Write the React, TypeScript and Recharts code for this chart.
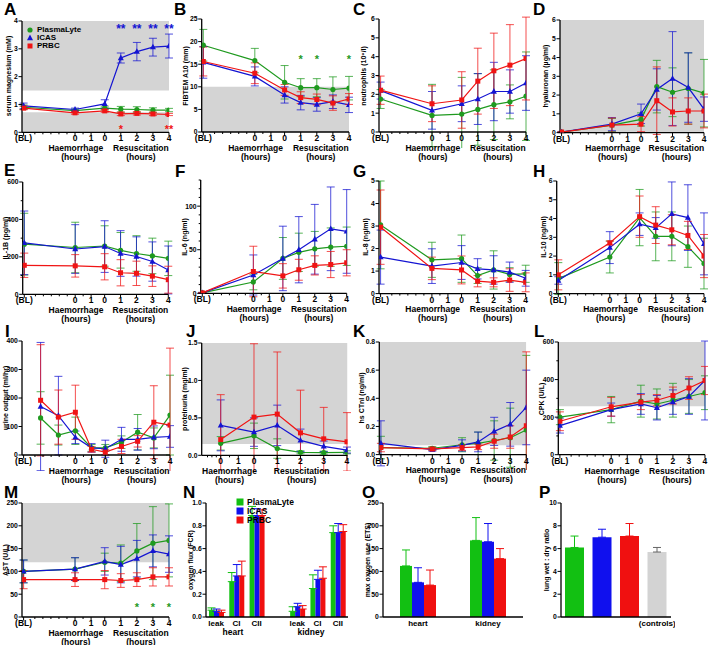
import React from 'react';
import { LineChart, Line, XAxis, YAxis, ErrorBar, ReferenceArea, ReferenceDot, BarChart, Bar } from 'recharts';

const FONT = '"Liberation Sans", Arial, Helvetica, sans-serif';
const GREEN = '#1f9a1f';
const BLUE = '#1414d2';
const RED = '#f01414';
const BGREEN = '#12c012';
const BBLUE = '#1010ee';
const BRED = '#f01010';
const BGRAY = '#d3d3d3';
const GRAYAREA = '#d4d4d4';

const seriesNames = ['PlasmaLyte', 'ICAS', 'PRBC'];
const stdTimes = ['BL', 'H0', 'R0', 'R1', 'R2', 'R3', 'R4'];
const urineTimes = ['Bm2', 'Bm1', 'H0', 'H1', 'R0', 'R1', 'R2', 'R3', 'R4'];
const protTimes = ['H0', 'R0', 'R1', 'R2', 'R3', 'R4'];

// A serum magnesium
const magPL = [0.9, 0.78, 0.87, 0.83, 0.82, 0.8, 0.8];
const magPLsd = [0.08, 0.05, 0.07, 0.1, 0.1, 0.08, 0.06];
const magIC = [0.95, 0.82, 1.02, 2.67, 2.9, 3.06, 3.1];
const magICsd = [0.1, 0.05, 0.15, 0.18, 0.33, 0.32, 0.43];
const magPR = [0.87, 0.7, 0.77, 0.66, 0.68, 0.66, 0.64];
const magPRsd = [0.06, 0.05, 0.05, 0.06, 0.06, 0.06, 0.04];
// B FIBTEM
const fibPL = [19.2, 15.8, 11.0, 9.8, 9.8, 9.4, 9.7];
const fibPLsd = [3.5, 2.7, 3.7, 2.0, 2.0, 2.8, 2.6];
const fibIC = [15.4, 12.3, 8.2, 6.5, 6.1, 6.7, 6.0];
const fibICsd = [3.5, 2.1, 1.8, 1.6, 1.5, 1.5, 1.7];
const fibPR = [15.6, 13.0, 9.3, 7.6, 7.2, 6.4, 7.3];
const fibPRsd = [3.2, 2.3, 1.2, 1.3, 1.2, 1.6, 1.2];
// C neutrophils
const neuPL = [1.75, 0.88, 0.95, 1.2, 1.45, 1.6, 1.9];
const neuPLsd = [0.5, 1.65, 1.95, 1.9, 1.85, 0.9, 2.35];
const neuIC = [2.2, 1.15, 1.5, 1.75, 2.15, 2.15, 2.6];
const neuICsd = [0.45, 1.0, 0.95, 1.35, 1.55, 1.15, 1.45];
const neuPR = [2.22, 1.5, 1.7, 2.7, 3.25, 3.55, 3.9];
const neuPRsd = [0.75, 0.95, 1.5, 1.75, 2.0, 2.15, 2.2];
// D hyaluronan
const hyaPL = [0.03, 0.4, 0.7, 2.45, 2.15, 2.35, 2.1];
const hyaPLsd = [0.03, 0.35, 0.35, 1.4, 1.3, 1.9, 1.8];
const hyaIC = [0.03, 0.45, 1.0, 2.3, 2.88, 2.4, 1.25];
const hyaICsd = [0.03, 0.35, 0.52, 1.1, 2.5, 1.85, 0.65];
const hyaPR = [0.03, 0.4, 0.45, 1.7, 1.1, 1.15, 1.15];
const hyaPRsd = [0.03, 0.38, 0.4, 1.8, 0.75, 0.7, 0.9];
// E IL-1B
const il1PL = [268, 250, 258, 235, 218, 205, 192];
const il1PLsd = [165, 135, 108, 95, 95, 95, 92];
const il1IC = [275, 242, 255, 218, 202, 175, 130];
const il1ICsd = [170, 130, 138, 122, 105, 105, 128];
const il1PR = [155, 152, 147, 115, 112, 97, 78];
const il1PRsd = [65, 60, 70, 70, 65, 55, 72];
// F IL-6
const il6PL = [0.5, 13, 40, 47, 51, 53, 54];
const il6PLsd = [0.5, 9, 24, 22, 20, 22, 22];
const il6IC = [0.5, 21, 40, 50, 62, 74, 71];
const il6ICsd = [0.5, 23, 37, 38, 40, 48, 48];
const il6PR = [0.5, 25, 20, 27, 32, 33, 35];
const il6PRsd = [0.5, 29, 14, 12, 11, 15, 15];
// G IL-8
const il8PL = [3.05, 1.5, 1.55, 0.8, 1.05, 0.85, 0.88];
const il8PLsd = [1.95, 0.78, 1.05, 0.35, 0.85, 0.3, 0.38];
const il8IC = [1.62, 1.22, 1.38, 1.1, 1.05, 0.95, 0.68];
const il8ICsd = [1.2, 0.77, 0.75, 0.45, 0.63, 0.45, 0.35];
const il8PR = [2.95, 1.12, 1.05, 0.55, 0.5, 0.6, 0.5];
const il8PRsd = [1.65, 0.5, 0.62, 0.25, 0.2, 0.5, 0.42];
// H IL-10
const il10PL = [0.8, 1.95, 4.05, 3.05, 3.05, 2.5, 1.6];
const il10PLsd = [0.85, 0.85, 1.5, 1.3, 1.3, 1.1, 1.35];
const il10IC = [0.7, 2.45, 3.7, 3.5, 4.25, 4.05, 2.65];
const il10ICsd = [0.2, 0.85, 0.6, 0.55, 1.7, 1.75, 1.65];
const il10PR = [1.0, 2.7, 4.1, 3.65, 3.4, 3.1, 2.0];
const il10PRsd = [0.8, 0.1, 1.1, 0.98, 0.8, 0.75, 1.15];
// I urine output
const uriPL = [130, 70, 85, 25, 25, 45, 80, 60, 140];
const uriPLsd = [92, 35, 48, 12, 12, 22, 62, 35, 140];
const uriIC = [170, 138, 62, 25, 22, 55, 55, 62, 65];
const uriICsd = [225, 138, 22, 15, 30, 42, 38, 40, 38];
const uriPR = [192, 133, 150, 20, 10, 30, 48, 115, 105];
const uriPRsd = [195, 95, 95, 10, 10, 25, 20, 128, 270];
// J proteinuria
const proPL = [0.16, 0.26, 0.09, 0.04, 0.035, 0.04];
const proPLsd = [0.09, 0.17, 0.13, 0.02, 0.02, 0.02];
const proIC = [0.4, 0.31, 0.4, 0.2, 0.12, 0.07];
const proICsd = [0.34, 0.19, 0.27, 0.15, 0.07, 0.04];
const proPR = [0.21, 0.51, 0.55, 0.3, 0.22, 0.18];
const proPRsd = [0.6, 0.98, 0.83, 0.57, 0.42, 0.39];
// K hs CTnI
const ctnPL = [0.05, 0.045, 0.07, 0.08, 0.1, 0.12, 0.175];
const ctnPLsd = [0.08, 0.012, 0.05, 0.08, 0.14, 0.21, 0.53];
const ctnIC = [0.08, 0.035, 0.065, 0.09, 0.165, 0.215, 0.335];
const ctnICsd = [0.16, 0.01, 0.04, 0.07, 0.1, 0.155, 0.265];
const ctnPR = [0.05, 0.04, 0.05, 0.055, 0.095, 0.125, 0.205];
const ctnPRsd = [0.03, 0.01, 0.02, 0.02, 0.05, 0.08, 0.525];
// L CPK
const cpkPL = [200, 240, 285, 270, 290, 310, 330];
const cpkPLsd = [40, 70, 85, 80, 90, 90, 90];
const cpkIC = [155, 240, 270, 250, 280, 310, 395];
const cpkICsd = [40, 35, 55, 65, 65, 95, 210];
const cpkPR = [178, 255, 280, 290, 315, 355, 395];
const cpkPRsd = [50, 50, 40, 30, 45, 60, 75];
// M AST
const astPL = [100, 105, 120, 118, 145, 162, 168];
const astPLsd = [25, 25, 20, 40, 60, 80, 80];
const astIC = [100, 105, 122, 115, 128, 145, 138];
const astICsd = [25, 25, 30, 40, 40, 35, 40];
const astPR = [82, 82, 82, 80, 82, 88, 88];
const astPRsd = [20, 15, 20, 15, 15, 20, 20];
// N oxygen flux
const flxCats = ['leak', 'CI', 'CII', '', 'leak', 'CI', 'CII'];
const flxPL = [0.06, 0.31, 0.89, null, 0.05, 0.25, 0.74];
const flxPLsd = [0.02, 0.08, 0.08, 0, 0.04, 0.12, 0.06];
const flxIC = [0.05, 0.36, 0.89, null, 0.09, 0.33, 0.74];
const flxICsd = [0.02, 0.1, 0.06, 0, 0.03, 0.08, 0.08];
const flxPR = [0.04, 0.36, 0.89, null, 0.07, 0.34, 0.75];
const flxPRsd = [0.02, 0.13, 0.05, 0, 0.03, 0.1, 0.06];
// O max oxygen use
const oxyCats = ['heart', 'kidney'];
const oxyPL = [112, 168];
const oxyPLsd = [35, 50];
const oxyIC = [76, 165];
const oxyICsd = [32, 40];
const oxyPR = [70, 128];
const oxyPRsd = [33, 22];
// P lung wet:dry
const lungCats = ['PlasmaLyte', 'ICAS', 'PRBC', '(controls)'];
const lungPL = [6.1, null, null, null];
const lungIC = [null, 7.0, null, null];
const lungPR = [null, null, 7.1, null];
const lungCT = [null, null, null, 5.7];
const lungSd = [1.0, 0.7, 1.1, 0.4];

const AXES: any = {
  std: {
    domain: [-3.3, 5.85],
    pos: { BL: -3.2, Bm2: -2.15, Bm1: -1.05, H0: 0, H1: 1, R0: 1.85, R1: 2.85, R2: 3.85, R3: 4.85, R4: 5.85 },
    major: [
      { v: -3.2, l: '(BL)' }, { v: 0, l: '0' }, { v: 1, l: '1' }, { v: 1.85, l: '0' },
      { v: 2.85, l: '1' }, { v: 3.85, l: '2' }, { v: 4.85, l: '3' }, { v: 5.85, l: '4' },
    ],
    minor: [-2.5, -2, -1.5, -1, -0.5, 0.5],
    haem: 0.05, res: 4.1,
  },
  prot: {
    domain: [-1.08, 7.2],
    pos: { H0: 0, H1: 1, R0: 1.89, R1: 3.21, R2: 4.53, R3: 5.85, R4: 7.17 },
    major: [
      { v: 0, l: '0' }, { v: 1, l: '1' }, { v: 1.89, l: '0' },
      { v: 3.21, l: '1' }, { v: 4.53, l: '2' }, { v: 5.85, l: '3' }, { v: 7.17, l: '4' },
    ],
    minor: [-0.75, -0.5, -0.25, 0.5],
    haem: 0.5, res: 4.6,
  },
};

const XTick = (p: any) => {
  const { x, y, payload, major } = p;
  const m = major.find((mm: any) => Math.abs(mm.v - payload.value) < 1e-6);
  return (
    <g>
      <line x1={x} x2={x} y1={y} y2={y + (m ? 3.5 : 2)} stroke="#000" strokeWidth={1} />
      {m && (
        <text x={x} y={y + 9} textAnchor="middle" fontSize={8.5} fontWeight="bold" fontFamily={FONT} fill="#000">
          {m.l}
        </text>
      )}
    </g>
  );
};

const YTick = (p: any) => {
  const { x, y, payload, majors, fmt } = p;
  const isMajor = majors.some((v: number) => Math.abs(v - payload.value) < 1e-9);
  return (
    <g>
      <line x1={x} x2={x - (isMajor ? 3.5 : 2)} y1={y} y2={y} stroke="#000" strokeWidth={1} />
      {isMajor && (
        <text x={x - 4.2} y={y} dy="0.35em" textAnchor="end" fontSize={6.8} fontWeight="bold" fontFamily={FONT} fill="#000">
          {fmt(payload.value)}
        </text>
      )}
    </g>
  );
};

const makeDot = (shape: string, color: string) => (p: any) => {
  const { cx, cy, index } = p;
  if (cx == null || cy == null) return <g key={index} />;
  if (shape === 'circle') return <circle key={index} cx={cx} cy={cy} r={2.6} fill={color} />;
  if (shape === 'square') return <rect key={index} x={cx - 2.5} y={cy - 2.5} width={5} height={5} fill={color} />;
  return <polygon key={index} points={`${cx},${cy - 3.4} ${cx + 3},${cy + 2.2} ${cx - 3},${cy + 2.2}`} fill={color} />;
};

const Txt = ({ x, y, children, size = 8.5, color = '#000', anchor = 'middle', rotate = false, weight = 'bold' }: any) => {
  const tx = anchor === 'middle' ? '-50%' : anchor === 'start' ? '0' : '-100%';
  return (
    <div
      style={{
        position: 'absolute', left: x, top: y, transform: `translate(${tx},-50%)${rotate ? ' rotate(-90deg)' : ''}`,
        fontFamily: FONT, fontSize: size, fontWeight: weight as any, color, whiteSpace: 'nowrap', lineHeight: 1,
      }}
    >
      {children}
    </div>
  );
};

const Letter = ({ x, y, l }: any) => (
  <div style={{ position: 'absolute', left: x, top: y + 0.9, fontFamily: FONT, fontSize: 17, fontWeight: 'bold', lineHeight: 0.8 }}>{l}</div>
);

const fmtI = (v: number) => String(v);
const fmt1 = (v: number) => v.toFixed(1);

const COLORS = [GREEN, BLUE, RED];
const SHAPES = ['circle', 'triangle', 'square'];

function LinePanel({ c }: any) {
  const ax = AXES[c.axis];
  const yW = c.px - c.colStart;
  const mt = 8, mr = 6, xh = 16;
  const width = c.px + c.pw + mr - c.colStart;
  const height = c.ph + mt + xh;
  const seriesData = c.series.map((s: any) =>
    s.vals.map((v: number, i: number) => ({ x: ax.pos[c.times[i]], y: v, e: s.sd[i] }))
  );
  const xTicks = [...ax.major.map((m: any) => m.v), ...ax.minor].sort((a, b) => a - b);
  const yTicks = [...c.yMajor, ...(c.yMinor || [])].sort((a: number, b: number) => a - b);
  const toPx = (v: number) => c.px + ((v - ax.domain[0]) / (ax.domain[1] - ax.domain[0])) * c.pw;
  const gy = c.py + c.ph;
  return (
    <>
      <div style={{ position: 'absolute', left: c.colStart, top: c.py - mt }}>
        <LineChart width={width} height={height} margin={{ top: mt, right: mr, left: 0, bottom: 0 }}>
          {(c.areas || []).map((a: number[], i: number) => (
            <ReferenceArea key={'a' + i} x1={ax.domain[0]} x2={ax.domain[1]} y1={a[0]} y2={a[1]} fill={GRAYAREA} fillOpacity={1} stroke="none" ifOverflow="hidden" />
          ))}
          <XAxis
            type="number" dataKey="x" domain={ax.domain} allowDataOverflow ticks={xTicks} interval={0}
            tickSize={0} tickMargin={0} height={xh} tickLine={false}
            axisLine={{ stroke: '#000', strokeWidth: 1.3 }}
            tick={<XTick major={ax.major} />}
          />
          <YAxis
            type="number" domain={c.yDomain} allowDataOverflow ticks={yTicks} interval={0} width={yW}
            tickSize={0} tickMargin={0} tickLine={false}
            axisLine={{ stroke: '#000', strokeWidth: 1.3 }}
            tick={<YTick majors={c.yMajor} fmt={c.yFmt || fmtI} />}
          />
          {seriesData.map((d: any, k: number) => (
            <Line
              key={seriesNames[k]} name={seriesNames[k]} data={d} dataKey="y" stroke={COLORS[k]} strokeWidth={1.2}
              isAnimationActive={false} dot={makeDot(SHAPES[k], COLORS[k])} activeDot={false}
            >
              <ErrorBar dataKey="e" width={4} stroke={COLORS[k]} strokeWidth={1} strokeOpacity={0.75} direction="y" />
            </Line>
          ))}
          {(c.notes || []).map((n: any, i: number) => (
            <ReferenceDot
              key={'n' + i} x={ax.pos[n.t]} y={n.y} r={1} fill="none" stroke="none" ifOverflow="visible"
              label={{ value: n.text, position: 'center', fill: n.color, fontSize: n.size || 11, fontWeight: 'bold', fontFamily: FONT }}
            />
          ))}
        </LineChart>
      </div>
      <Txt x={c.ylx} y={c.py + c.ph / 2} rotate size={7}>{c.ylabel}</Txt>
      <Txt x={toPx(ax.haem)} y={gy + 16}>Haemorrhage</Txt>
      <Txt x={toPx(ax.res)} y={gy + 16}>Resuscitation</Txt>
      <Txt x={toPx(ax.haem)} y={gy + 25}>(hours)</Txt>
      <Txt x={toPx(ax.res)} y={gy + 25}>(hours)</Txt>
      <Letter x={c.lx} y={c.ly} l={c.letter} />
    </>
  );
}

const S = (vals: number[], sd: number[]) => ({ vals, sd });

const linePanels = [
  { letter: 'A', lx: 4, ly: 2, colStart: 0, px: 22, py: 20.7, pw: 147, ph: 111.3, axis: 'std', times: stdTimes, yDomain: [0, 4], yMajor: [0, 1, 2, 3, 4], ylabel: 'serum magnesium (mM)', ylx: 8,
    series: [S(magPL, magPLsd), S(magIC, magICsd), S(magPR, magPRsd)], areas: [[1.5, 4], [0, 0.72]],
    notes: [
      { t: 'R1', y: 3.72, text: '**', color: BLUE, size: 12 }, { t: 'R2', y: 3.72, text: '**', color: BLUE, size: 12 },
      { t: 'R3', y: 3.72, text: '**', color: BLUE, size: 12 }, { t: 'R4', y: 3.72, text: '**', color: BLUE, size: 12 },
      { t: 'R1', y: 0.12, text: '*', color: RED }, { t: 'R4', y: 0.12, text: '**', color: RED },
    ] },
  { letter: 'B', lx: 174, ly: 2, colStart: 172, px: 201.7, py: 19.3, pw: 147.3, ph: 113, axis: 'std', times: stdTimes, yDomain: [0, 25], yMajor: [0, 5, 10, 15, 20, 25], ylabel: 'FIBTEM A10 (mm)', ylx: 185,
    series: [S(fibPL, fibPLsd), S(fibIC, fibICsd), S(fibPR, fibPRsd)], areas: [[0, 10]],
    notes: [
      { t: 'R1', y: 16.2, text: '*', color: GREEN }, { t: 'R2', y: 16.2, text: '*', color: GREEN }, { t: 'R4', y: 16.2, text: '*', color: GREEN },
    ] },
  { letter: 'C', lx: 353, ly: 2, colStart: 352, px: 379, py: 19.3, pw: 147, ph: 113, axis: 'std', times: stdTimes, yDomain: [0, 6], yMajor: [0, 1, 2, 3, 4, 5, 6], ylabel: 'neutrophils (10\u2079/l)', ylx: 363,
    series: [S(neuPL, neuPLsd), S(neuIC, neuICsd), S(neuPR, neuPRsd)] },
  { letter: 'D', lx: 533, ly: 2, colStart: 532, px: 560, py: 19.7, pw: 144, ph: 112.6, axis: 'std', times: stdTimes, yDomain: [0, 6], yMajor: [0, 1, 2, 3, 4, 5, 6], ylabel: 'hyaluronan (\u00b5g/ml)', ylx: 545,
    series: [S(hyaPL, hyaPLsd), S(hyaIC, hyaICsd), S(hyaPR, hyaPRsd)], areas: [[0, 6]] },
  { letter: 'E', lx: 4, ly: 163, colStart: 0, px: 22.7, py: 181.7, pw: 145.6, ph: 112.3, axis: 'std', times: stdTimes, yDomain: [0, 600], yMajor: [0, 200, 400, 600], yMinor: [100, 300, 500], ylabel: 'IL-1B (pg/ml)', ylx: 5,
    series: [S(il1PL, il1PLsd), S(il1IC, il1ICsd), S(il1PR, il1PRsd)] },
  { letter: 'F', lx: 175, ly: 164, colStart: 172, px: 200.7, py: 180, pw: 146, ph: 113.3, axis: 'std', times: stdTimes, yDomain: [0, 130], yMajor: [0, 50, 100], yMinor: [10, 20, 30, 40, 60, 70, 80, 90, 110, 120, 130], ylabel: 'IL-6 (ng/ml)', ylx: 184,
    series: [S(il6PL, il6PLsd), S(il6IC, il6ICsd), S(il6PR, il6PRsd)] },
  { letter: 'G', lx: 353, ly: 164, colStart: 352, px: 379, py: 180.7, pw: 146.7, ph: 112.6, axis: 'std', times: stdTimes, yDomain: [0, 5], yMajor: [0, 1, 2, 3, 4, 5], ylabel: 'IL-8 (ng/ml)', ylx: 365,
    series: [S(il8PL, il8PLsd), S(il8IC, il8ICsd), S(il8PR, il8PRsd)] },
  { letter: 'H', lx: 533, ly: 164, colStart: 532, px: 556.7, py: 180.7, pw: 147.3, ph: 112.6, axis: 'std', times: stdTimes, yDomain: [0, 6], yMajor: [0, 1, 2, 3, 4, 5, 6], ylabel: 'IL-10 (ng/ml)', ylx: 543,
    series: [S(il10PL, il10PLsd), S(il10IC, il10ICsd), S(il10PR, il10PRsd)] },
  { letter: 'I', lx: 5, ly: 324, colStart: 0, px: 22, py: 341, pw: 148, ph: 114, axis: 'std', times: urineTimes, yDomain: [0, 400], yMajor: [0, 100, 200, 300, 400], ylabel: 'urine output (ml/hr)', ylx: 5,
    series: [S(uriPL, uriPLsd), S(uriIC, uriICsd), S(uriPR, uriPRsd)] },
  { letter: 'J', lx: 186, ly: 324, colStart: 172, px: 201.7, py: 342.7, pw: 145.8, ph: 112.3, axis: 'prot', times: protTimes, yDomain: [0, 1.5], yMajor: [0, 0.5, 1, 1.5], yFmt: fmt1, ylabel: 'proteinuria (mg/ml)', ylx: 184,
    series: [S(proPL, proPLsd), S(proIC, proICsd), S(proPR, proPRsd)], areas: [[0.15, 1.5]] },
  { letter: 'K', lx: 353, ly: 324, colStart: 352, px: 379.3, py: 341.7, pw: 147, ph: 112.6, axis: 'std', times: stdTimes, yDomain: [0, 0.8], yMajor: [0, 0.2, 0.4, 0.6, 0.8], yFmt: fmt1, ylabel: 'hs CTnI (ng/ml)', ylx: 361,
    series: [S(ctnPL, ctnPLsd), S(ctnIC, ctnICsd), S(ctnPR, ctnPRsd)], areas: [[0.066, 0.8]] },
  { letter: 'L', lx: 534, ly: 324, colStart: 532, px: 558.3, py: 342.3, pw: 146.7, ph: 112.7, axis: 'std', times: stdTimes, yDomain: [0, 600], yMajor: [0, 200, 400, 600], yMinor: [100, 300, 500], ylabel: 'CPK (U/L)', ylx: 541,
    series: [S(cpkPL, cpkPLsd), S(cpkIC, cpkICsd), S(cpkPR, cpkPRsd)], areas: [[258, 600]] },
  { letter: 'M', lx: 4, ly: 485, colStart: 0, px: 22, py: 503, pw: 147, ph: 114, axis: 'std', times: stdTimes, yDomain: [0, 250], yMajor: [0, 50, 100, 150, 200, 250], ylabel: 'AST (U/L)', ylx: 4.5,
    series: [S(astPL, astPLsd), S(astIC, astICsd), S(astPR, astPRsd)], areas: [[120, 250]],
    notes: [
      { t: 'R2', y: 22, text: '*', color: GREEN }, { t: 'R3', y: 22, text: '*', color: GREEN }, { t: 'R4', y: 22, text: '*', color: GREEN },
    ] },
];

const CatTick = (p: any) => {
  const { x, y, payload, labels } = p;
  return (
    <text x={x} y={y + 9} textAnchor="middle" fontSize={8} fontWeight="bold" fontFamily={FONT} fill="#000">
      {labels[payload.value]}
    </text>
  );
};

function BarPanel({ c }: any) {
  const yW = c.px - c.colStart;
  const mt = 8, mr = 4, xh = 14;
  const width = c.px + c.pw + mr - c.colStart;
  const height = c.ph + mt + xh;
  const data = c.cats.map((_: string, i: number) => {
    const row: any = { i };
    c.series.forEach((s: any, k: number) => {
      row['v' + k] = s.vals[i];
      row['e' + k] = s.vals[i] == null ? null : [0, s.sd[i]];
    });
    return row;
  });
  return (
    <>
      <div style={{ position: 'absolute', left: c.colStart, top: c.py - mt }}>
        <BarChart width={width} height={height} data={data} margin={{ top: mt, right: mr, left: 0, bottom: 0 }} barGap={0} barCategoryGap={c.catGap}>
          <XAxis dataKey="i" type="category" tickSize={0} tickMargin={0} height={xh} tickLine={false} interval={0}
            axisLine={{ stroke: '#000', strokeWidth: 1.3 }} tick={<CatTick labels={c.tickLabels} />} />
          <YAxis type="number" domain={c.yDomain} allowDataOverflow ticks={c.yMajor} interval={0} width={yW}
            tickSize={0} tickMargin={0} tickLine={false} axisLine={{ stroke: '#000', strokeWidth: 1.3 }}
            tick={<YTick majors={c.yMajor} fmt={c.yFmt || fmtI} />} />
          {c.series.map((s: any, k: number) => (
            <Bar key={'b' + k} name={s.name} dataKey={'v' + k} fill={s.color} barSize={c.barSize} stackId={c.stacked ? 'st' : undefined} isAnimationActive={false}>
              <ErrorBar dataKey={'e' + k} width={c.capW || 4} stroke={s.errColor || s.color} strokeWidth={1} direction="y" />
            </Bar>
          ))}
        </BarChart>
      </div>
      <Txt x={c.ylx} y={c.py + c.ph / 2} rotate size={7}>{c.ylabel}</Txt>
      <Letter x={c.lx} y={c.ly} l={c.letter} />
    </>
  );
}

const barPanels = [
  { letter: 'N', lx: 183, ly: 485, colStart: 172, px: 206, py: 503, pw: 142, ph: 114, yDomain: [0, 1], yMajor: [0, 0.2, 0.4, 0.6, 0.8, 1.0], yFmt: fmt1,
    ylabel: 'oxygen flux (FCR)', ylx: 190, cats: flxCats, tickLabels: flxCats, barSize: 5, catGap: '10%',
    series: [
      { name: seriesNames[0], vals: flxPL, sd: flxPLsd, color: BGREEN },
      { name: seriesNames[1], vals: flxIC, sd: flxICsd, color: BBLUE },
      { name: seriesNames[2], vals: flxPR, sd: flxPRsd, color: BRED },
    ] },
  { letter: 'O', lx: 362, ly: 485, colStart: 352, px: 383, py: 503, pw: 140, ph: 114, yDomain: [0, 250], yMajor: [0, 50, 100, 150, 200, 250],
    ylabel: 'max oxygen use (ETS)', ylx: 367, cats: oxyCats, tickLabels: oxyCats, barSize: 12, catGap: '20%',
    series: [
      { name: seriesNames[0], vals: oxyPL, sd: oxyPLsd, color: BGREEN },
      { name: seriesNames[1], vals: oxyIC, sd: oxyICsd, color: BBLUE },
      { name: seriesNames[2], vals: oxyPR, sd: oxyPRsd, color: BRED },
    ] },
  { letter: 'P', lx: 539, ly: 485, colStart: 532, px: 561, py: 503, pw: 110, ph: 114, yDomain: [0, 10], yMajor: [0, 2, 4, 6, 8, 10],
    ylabel: 'lung wet : dry ratio', ylx: 546, cats: lungCats, tickLabels: ['', '', '', '(controls)'], barSize: 19, catGap: '12%', stacked: true,
    series: [
      { name: seriesNames[0], vals: lungPL, sd: lungSd, color: BGREEN },
      { name: seriesNames[1], vals: lungIC, sd: lungSd, color: BBLUE },
      { name: seriesNames[2], vals: lungPR, sd: lungSd, color: BRED },
      { name: 'controls', vals: lungCT, sd: lungSd, color: BGRAY, errColor: '#666' },
    ] },
];

const LegendRow = ({ x, y, color, shape, label, size = 8 }: any) => (
  <div style={{ position: 'absolute', left: x, top: y - 5, height: 10, display: 'flex', alignItems: 'center', fontFamily: FONT, fontSize: size, fontWeight: 'bold', lineHeight: 1, whiteSpace: 'nowrap' }}>
    <svg width={8} height={8} style={{ marginRight: 3 }}>
      {shape === 'circle' && <circle cx={4} cy={4} r={2.6} fill={color} />}
      {shape === 'triangle' && <polygon points="4,0.6 7,6.2 1,6.2" fill={color} />}
      {shape === 'square' && <rect x={1.5} y={1.5} width={5} height={5} fill={color} />}
      {shape === 'box' && <rect x={0.5} y={0.5} width={7} height={7} fill={color} />}
    </svg>
    {label}
  </div>
);

export default function App() {
  return (
    <div style={{ position: 'absolute', left: 0, top: 0, width: 708, height: 645, background: '#fff', overflow: 'hidden' }}>
      {linePanels.map((c) => <LinePanel key={c.letter} c={c} />)}
      {barPanels.map((c) => <BarPanel key={c.letter} c={c} />)}
      <LegendRow x={26} y={29.5} color={GREEN} shape="circle" label="PlasmaLyte" />
      <LegendRow x={26} y={37.5} color={BLUE} shape="triangle" label="ICAS" />
      <LegendRow x={26} y={45.5} color={RED} shape="square" label="PRBC" />
      <LegendRow x={236} y={502} color={BGREEN} shape="box" label="PlasmaLyte" size={8.5} />
      <LegendRow x={236} y={511} color={BBLUE} shape="box" label="ICAS" size={8.5} />
      <LegendRow x={236} y={520} color={BRED} shape="box" label="PRBC" size={8.5} />
      <Txt x={233} y={632}>heart</Txt>
      <Txt x={311} y={632}>kidney</Txt>
    </div>
  );
}
